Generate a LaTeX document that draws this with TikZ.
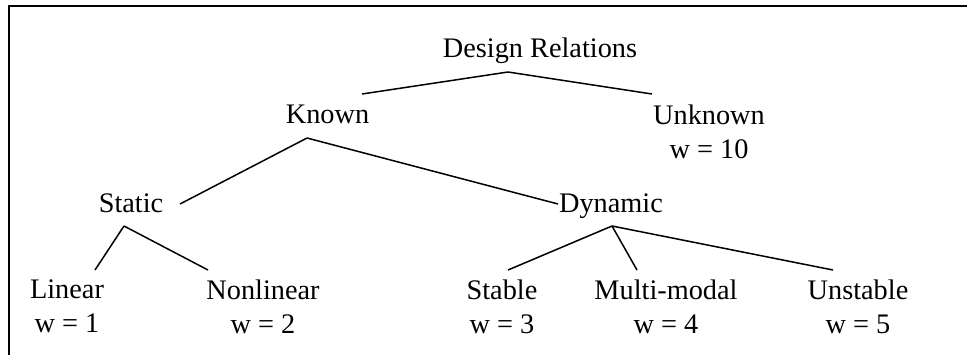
\documentclass[tikz,border=0pt]{standalone}
\usepackage{fontspec}
\setmainfont{Liberation Serif}
\usepackage{tikz}
\usetikzlibrary{calc}
\tikzset{
  term/.style={inner sep=0pt, anchor=base, font=\fontsize{14.15}{17}\selectfont},
  leaf/.style={inner sep=0pt, anchor=north, align=center,
    font=\fontsize{14.15}{17}\selectfont},
  branch/.style={line width=0.75pt},
  frame/.style={line width=1.2pt},
}

\begin{document}
\begin{tikzpicture}[x=0.5pt, y=-0.5pt]
  \useasboundingbox (0,0) rectangle (967,355);
  \draw[frame] (967,6) -- (9,6) -- (9,355);

  % Top row
  \node[term] (design) at (540,57) {Design Relations};
  \node[term] (known) at (327.5,123) {Known};
  \node[leaf] (unknown) at (709,104) {Unknown\\w = 10};

  % Middle row
  \node[term] (static) at (131,212) {Static};
  \node[term] (dynamic) at (611,212) {Dynamic};

  % Bottom row
  \node[leaf] (linear) at (67,279) {Linear\\w = 1};
  \node[leaf] (nonlinear) at (263,279) {Nonlinear\\w = 2};
  \node[leaf] (stable) at (502,279) {Stable\\w = 3};
  \node[leaf] (multimodal) at (666,279) {Multi-modal\\w = 4};
  \node[leaf] (unstable) at (858,279) {Unstable\\w = 5};

  % Forks
  \coordinate (designfork) at ([shift={(-32,15)}]design.base);
  \coordinate (knownfork) at ([shift={(-20.5,15)}]known.base);
  \coordinate (staticfork) at ([shift={(-7,14)}]static.base);
  \coordinate (dynamicfork) at ([shift={(1,14)}]dynamic.base);

  % Connections
  \draw[branch] (designfork) -- ([shift={(34.5,-29)}]known.base);
  \draw[branch] (designfork) -- ([shift={(-57,-10)}]unknown.north);

  \draw[branch] (knownfork) -- ([shift={(49,-8)}]static.base);
  \draw[branch] (knownfork) -- ([shift={(-53,-8)}]dynamic.base);

  \draw[branch] (staticfork) -- ([shift={(28,-9)}]linear.north);
  \draw[branch] (staticfork) -- ([shift={(-55,-9)}]nonlinear.north);

  \draw[branch] (dynamicfork) -- ([shift={(6,-9)}]stable.north);
  \draw[branch] (dynamicfork) -- ([shift={(-29,-9)}]multimodal.north);
  \draw[branch] (dynamicfork) -- ([shift={(-25,-9)}]unstable.north);
\end{tikzpicture}
\end{document}
